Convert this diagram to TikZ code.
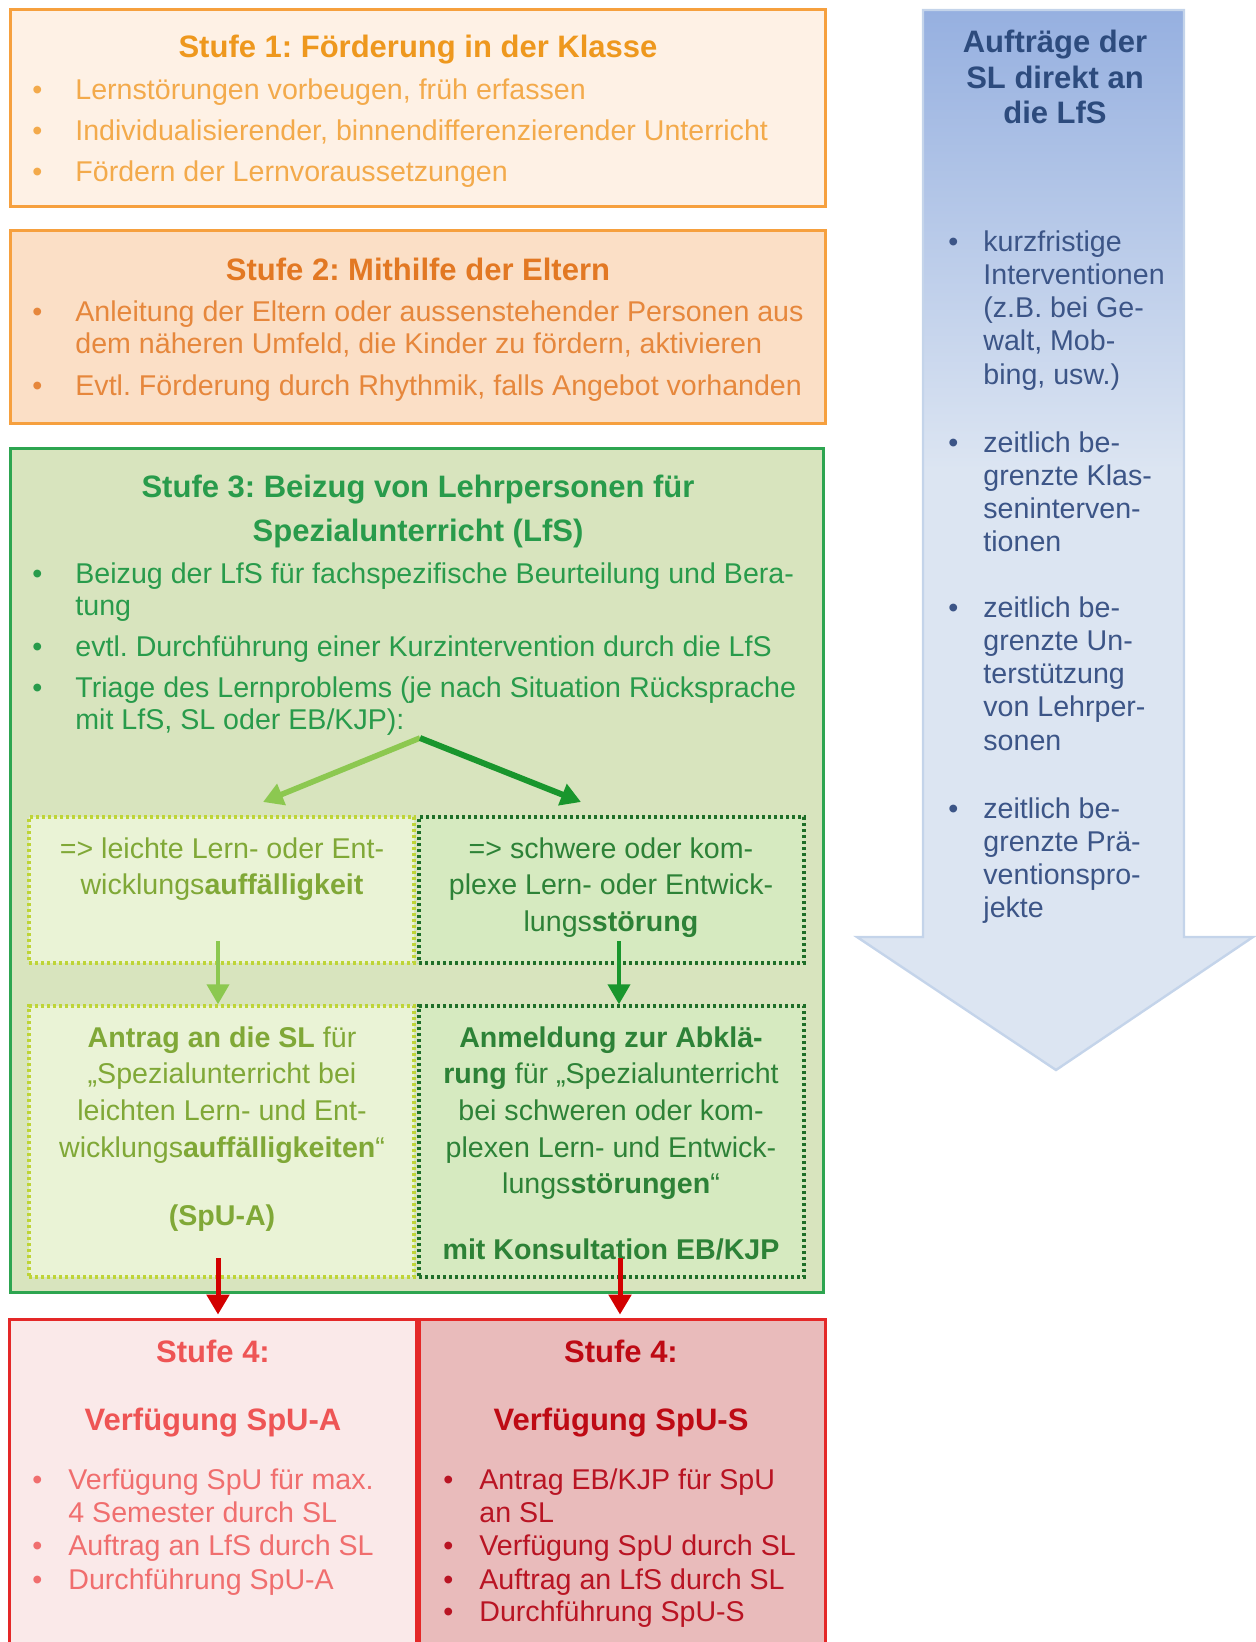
\documentclass[tikz,border=0pt]{standalone}
\usepackage{fontspec}
\setmainfont{Liberation Sans}
\usetikzlibrary{arrows.meta, fit}
\frenchspacing

\definecolor{orLine}{RGB}{246,160,62}
\definecolor{orFillA}{RGB}{254,241,229}
\definecolor{orFillB}{RGB}{251,223,198}
\definecolor{orHeadA}{RGB}{238,152,30}
\definecolor{orTextA}{RGB}{243,170,75}
\definecolor{orHeadB}{RGB}{226,120,35}
\definecolor{orTextB}{RGB}{230,135,60}
\definecolor{grLine}{RGB}{45,165,80}
\definecolor{grFill}{RGB}{216,228,190}
\definecolor{grText}{RGB}{40,155,75}
\definecolor{ltFill}{RGB}{234,243,214}
\definecolor{ltLine}{RGB}{190,212,55}
\definecolor{ltText}{RGB}{128,168,55}
\definecolor{dkFill}{RGB}{214,234,192}
\definecolor{dkLine}{RGB}{30,110,40}
\definecolor{dkText}{RGB}{45,130,55}
\definecolor{arLight}{RGB}{140,200,80}
\definecolor{arDark}{RGB}{25,150,45}
\definecolor{arRed}{RGB}{210,0,0}
\definecolor{rdLine}{RGB}{228,40,40}
\definecolor{rdFillA}{RGB}{250,233,233}
\definecolor{rdFillB}{RGB}{233,187,187}
\definecolor{rdHeadA}{RGB}{238,85,85}
\definecolor{rdTextA}{RGB}{240,110,110}
\definecolor{rdHeadB}{RGB}{190,10,20}
\definecolor{rdTextB}{RGB}{185,20,35}
\definecolor{blTop}{RGB}{150,176,224}
\definecolor{blBot}{RGB}{220,229,242}
\definecolor{blLine}{RGB}{196,212,234}
\definecolor{blText}{RGB}{60,85,135}
\definecolor{blHead}{RGB}{45,75,125}

\newcommand{\bul}[1][16.5pt]{\llap{\textbullet\hspace{#1}}}

\tikzset{
  stage/.style={inner sep=0pt, line width=1.5pt},
  dotbox/.style={inner sep=0pt, line width=1.7pt, dash pattern=on 1.7pt off 1.3pt},
  txt/.style={inner sep=0pt, anchor=base west, align=left, font=\fontsize{14.3pt}{16.25pt}\selectfont},
  ctxt/.style={inner sep=0pt, anchor=base, align=center, font=\fontsize{14.3pt}{18.35pt}\selectfont},
  head/.style={inner sep=0pt, anchor=base, align=center, font=\fontsize{15.5pt}{22pt}\selectfont\bfseries},
  btxt/.style={txt, text=blText, font=\fontsize{14.3pt}{16.65pt}\selectfont},
  flow/.style={-{Triangle[length=10pt,width=11pt]}, line width=2.5pt},
}

\begin{document}
\begin{tikzpicture}[x=0.5pt, y=-0.5pt]
    \useasboundingbox (0,0) rectangle (1256,1642);

    \node (s1) [stage, draw=orLine, fill=orFillA, fit={(10,10) (825,207)}] {};
    \node (s1h) [head, text=orHeadA] at (418,58) {Stufe 1: Förderung in der Klasse};
    \node (s1a) [txt, text=orTextA] at (75,100) {\bul Lernstörungen vorbeugen, früh erfassen};
    \node (s1b) [txt, text=orTextA] at (75,141) {\bul Individualisierender, binnendifferenzierender Unterricht};
    \node (s1c) [txt, text=orTextA] at (75,182) {\bul Fördern der Lernvoraussetzungen};

    \node (s2) [stage, draw=orLine, fill=orFillB, fit={(10,231) (825,423)}] {};
    \node (s2h) [head, text=orHeadB] at (418,281) {Stufe 2: Mithilfe der Eltern};
    \node (s2a) [txt, text=orTextB] at (75,353.5) {\bul Anleitung der Eltern oder aussenstehender Personen aus\\dem näheren Umfeld, die Kinder zu fördern, aktivieren};
    \node (s2b) [txt, text=orTextB] at (75,395) {\bul Evtl. Förderung durch Rhythmik, falls Angebot vorhanden};

    \node (s3) [stage, draw=grLine, fill=grFill, fit={(10,448) (823,1292)}] {};
    \node (s3h) [head, text=grText] at (418,541) {Stufe 3: Beizug von Lehrpersonen für\\Spezialunterricht (LfS)};
    \node (s3a) [txt, text=grText] at (75,615.5) {\bul Beizug der LfS für fachspezifische Beurteilung und Bera-\\tung};
    \node (s3b) [txt, text=grText] at (75,656) {\bul evtl. Durchführung einer Kurzintervention durch die LfS};
    \node (s3c) [txt, text=grText] at (75,729.5) {\bul Triage des Lernproblems (je nach Situation Rücksprache\\mit LfS, SL oder EB/KJP):};

    \node (lt) [dotbox, draw=ltLine, fill=ltFill, fit={(29,817) (414,963)}] {};
    \node (lb) [dotbox, draw=ltLine, fill=ltFill, fit={(29,1006) (414,1277)}] {};
    \node (rt) [dotbox, draw=dkLine, fill=dkFill, fit={(419,817) (804,963)}] {};
    \node (rb) [dotbox, draw=dkLine, fill=dkFill, fit={(419,1006) (804,1277)}] {};

    \node (ltx) [ctxt, text=ltText] at (222,894.7) {=> leichte Lern- oder Ent-\\wicklungs\textbf{auffälligkeit}};
    \node (rtx) [ctxt, text=dkText] at (611,931.4) {=> schwere oder kom-\\plexe Lern- oder Entwick-\\lungs\textbf{störung}};
    \node (lbx) [ctxt, text=ltText] at (222,1157.1) {\textbf{Antrag an die SL} für\\„Spezialunterricht bei\\leichten Lern- und Ent-\\wicklungs\textbf{auffälligkeiten}“};
    \node (lby) [ctxt, text=ltText] at (222,1225) {\textbf{(SpU-A)}};
    \node (rbx) [ctxt, text=dkText] at (611,1193.8) {\textbf{Anmeldung zur Abklä-}\\\textbf{rung} für „Spezialunterricht\\bei schweren oder kom-\\plexen Lern- und Entwick-\\lungs\textbf{störungen}“};
    \node (rby) [ctxt, text=dkText] at (611,1259) {\textbf{mit Konsultation EB/KJP}};

    \coordinate (tri) at (420,738);
    \coordinate (triL) at (263,802);
    \coordinate (triR) at (581,802);
    \draw [flow, arLight, line width=2.8pt] (tri) -- (triL);
    \draw [flow, arDark, line width=3pt] (tri) -- (triR);

    \coordinate (dl) at (218,941);
    \coordinate (dr) at (619,941);
    \draw [flow, arLight, line width=2pt] (dl) -- (dl |- lb.north);
    \draw [flow, arDark, line width=2pt] (dr) -- (dr |- rb.north);

    \node (s4a) [inner sep=0pt, fill=rdFillA, fit={(10,1320) (416,1642)}] {};
    \node (s4b) [inner sep=0pt, fill=rdFillB, fit={(420,1320) (825,1642)}] {};
    \draw [rdLine, line width=1.5pt] (s4a.south west) |- (s4a.north east) -- (s4a.south east);
    \draw [rdLine, line width=1.5pt] (s4b.south west) |- (s4b.north east) -- (s4b.south east);

    \coordinate (rl) at (218,1258);
    \coordinate (rr) at (620,1258);
    \draw [flow, arRed, shorten >=2.5pt] (rl) -- (rl |- s4a.north);
    \draw [flow, arRed, shorten >=2.5pt] (rr) -- (rr |- s4b.north);

    \node (s4ah) [head, text=rdHeadA] at (213,1362) {Stufe 4:};
    \node (s4at) [head, text=rdHeadA] at (213,1430) {Verfügung SpU-A};
    \node (s4a1) [txt, text=rdTextA] at (68,1522) {\bul[13pt]Verfügung SpU für max.\\4 Semester durch SL};
    \node (s4a2) [txt, text=rdTextA] at (68,1555) {\bul[13pt]Auftrag an LfS durch SL};
    \node (s4a3) [txt, text=rdTextA] at (68,1589) {\bul[13pt]Durchführung SpU-A};

    \node (s4bh) [head, text=rdHeadB] at (621,1362) {Stufe 4:};
    \node (s4bt) [head, text=rdHeadB] at (621,1430) {Verfügung SpU-S};
    \node (s4b1) [txt, text=rdTextB] at (479,1522) {\bul[13pt]Antrag EB/KJP für SpU\\an SL};
    \node (s4b2) [txt, text=rdTextB] at (479,1555) {\bul[13pt]Verfügung SpU durch SL};
    \node (s4b3) [txt, text=rdTextB] at (479,1589) {\bul[13pt]Auftrag an LfS durch SL};
    \node (s4b4) [txt, text=rdTextB] at (479,1621) {\bul[13pt]Durchführung SpU-S};

    \fill [blBot] (923,10) -- (1184,10) -- (1184,937) -- (1253,937) -- (1056,1070) -- (857,937) -- (923,937) -- cycle;
    \shade [top color=blTop, bottom color=blBot] (923,10) rectangle (1184,470);
    \draw [blLine, line width=1.2pt] (923,10) -- (1184,10) -- (1184,937) -- (1253,937) -- (1056,1070) -- (857,937) -- (923,937) -- cycle;

    \node (blh) [head, text=blHead, font=\fontsize{15.5pt}{17.75pt}\selectfont\bfseries] at (1055,124) {Aufträge der\\SL direkt an\\die LfS};
    \node (bl1) [btxt] at (983,384.2) {\bul[12.5pt]kurzfristige\\Interventionen\\(z.B. bei Ge-\\walt, Mob-\\bing, usw.)};
    \node (bl2) [btxt] at (983,551.9) {\bul[12.5pt]zeitlich be-\\grenzte Klas-\\seninterven-\\tionen};
    \node (bl3) [btxt] at (983,750.2) {\bul[12.5pt]zeitlich be-\\grenzte Un-\\terstützung\\von Lehrper-\\sonen};
    \node (bl4) [btxt] at (983,917.9) {\bul[12.5pt]zeitlich be-\\grenzte Prä-\\ventionspro-\\jekte};
\end{tikzpicture}
\end{document}
